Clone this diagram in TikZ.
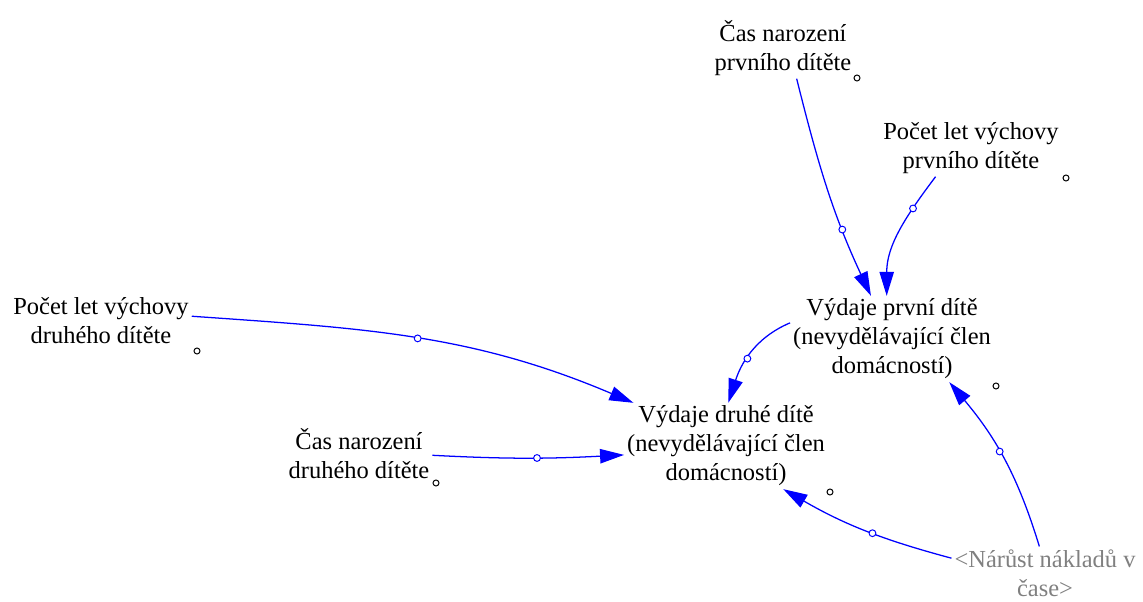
\documentclass[tikz,border=0pt]{standalone}
\usepackage{fontspec}
\setmainfont{Liberation Serif}
\usetikzlibrary{arrows.meta}

\tikzset{
  var/.style={align=center, inner sep=2pt, font=\fontsize{17.4}{20.6}\selectfont},
  shadowvar/.style={var, text=black!50},
  varmark/.style={circle, draw=black, fill=white, line width=0.7pt, inner sep=0pt, minimum size=0.15cm},
  link/.style={draw=blue, line width=0.9pt, -{Triangle[length=0.6cm, width=0.36cm]}},
  linkmark/.style={circle, draw=blue, fill=white, line width=0.7pt, inner sep=0pt, minimum size=0.17cm}
}

\begin{document}
\begin{tikzpicture}[x=0.025cm, y=0.025cm]
  \useasboundingbox (0,0) rectangle (1143,-602);

  % variables
  \node[var] (cas1) at (783,-48) {Čas narození\\prvního dítěte};
  \node[var] (pocet1) at (971,-148) {Počet let výchovy\\prvního dítěte};
  \node[var] (vyd1) at (892,-339) {Výdaje první dítě\\(nevydělávající člen\\domácností)};
  \node[var] (pocet2) at (101,-321) {Počet let výchovy\\druhého dítěte};
  \node[var] (cas2) at (359,-454) {Čas narození\\druhého dítěte};
  \node[var] (vyd2) at (726,-446) {Výdaje druhé dítě\\(nevydělávající člen\\domácností)};
  \node[shadowvar] (narust) at (1045,-573) {<Nárůst nákladů v\\čase>};

  % little circles beside the variables
  \node[varmark] (cas1m) at (857,-78) {};
  \node[varmark] (pocet1m) at (1066,-178) {};
  \node[varmark] (vyd1m) at (996,-386) {};
  \node[varmark] (pocet2m) at (197,-351) {};
  \node[varmark] (cas2m) at (436,-483) {};
  \node[varmark] (vyd2m) at (830,-492) {};

  % links
  \path (cas1.-66) edge[link, out=-76, in=115] node[linkmark, pos=.7] {} (vyd1.116)
        (pocet1.-141) edge[link, out=-127, in=90] node[linkmark, pos=.28] {} (vyd1.97)
        (vyd1.171) edge[link, out=-157, in=72] node[linkmark, pos=.55] {} (vyd2.87);
  \path (pocet2.3) edge[link, out=-4, in=157] node[linkmark] {} (vyd2.155)
        (cas2.-1) edge[link, out=-3, in=183] node[linkmark, pos=.55] {} (vyd2.185);
  \path (narust.102) edge[link, out=107, in=-50] node[linkmark, pos=.55] {} (vyd1.-37)
        (narust.171) edge[link, out=165, in=-30] node[linkmark, pos=.45] {} (vyd2.-37);
\end{tikzpicture}
\end{document}
